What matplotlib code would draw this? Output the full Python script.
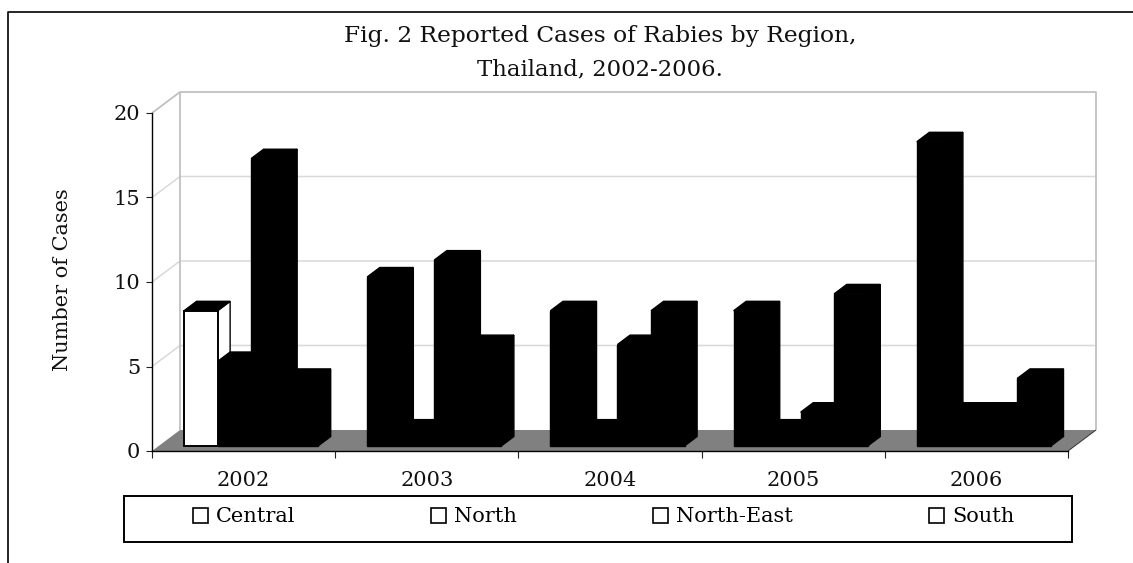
import matplotlib
matplotlib.use("Agg")
import matplotlib.pyplot as plt
from matplotlib.patches import Polygon, Patch, Rectangle
from matplotlib.lines import Line2D

years = ["2002", "2003", "2004", "2005", "2006"]
regions = ["Central", "North", "North-East", "South"]
central = [8, 10, 8, 8, 18]
north = [5, 1, 1, 1, 2]
north_east = [17, 11, 6, 2, 2]
south = [4, 6, 8, 9, 4]
yticks = [0, 5, 10, 15, 20]
title_lines = ["Fig. 2 Reported Cases of Rabies by Region,", "Thailand, 2002-2006."]

W, H = 1133, 563
FONT = "DejaVu Serif"
FS = 15
fig = plt.figure(figsize=(W / 100, H / 100), dpi=100, facecolor="white")


def fx(p):
    return p / W


def fy(p):
    return 1 - p / H


# front plane of the 3-D box
L, R, T, B = 152, 1068, 113, 451
ax = fig.add_axes([fx(L), fy(B), fx(R - L), (B - T) / H])
ax.set_xlim(0, len(years))
ax.set_ylim(0, 20)
ax.patch.set_visible(False)
for s in ("top", "right"):
    ax.spines[s].set_visible(False)
for s in ("left", "bottom"):
    ax.spines[s].set_linewidth(1.0)
    ax.spines[s].set_zorder(20)

ax.set_yticks(yticks)
ax.set_xticks(range(len(years) + 1))
ax.set_xticklabels([])
ax.tick_params(axis="y", length=4.3, width=0.8, color="#222222", labelsize=FS, pad=4.3, labelcolor="#111111")
ax.tick_params(axis="x", length=5, width=0.8, color="#222222")
for t in ax.get_yticklabels():
    t.set_fontfamily(FONT)

# depth of the box, in data units
DX = 28 / ((R - L) / len(years))
DY = 21 / ((B - T) / 20)


def proj(x, y, d):
    return (x + d * DX, y + d * DY)


def wall_line(pts, color, lw, z=1):
    ax.add_line(Line2D([p[0] for p in pts], [p[1] for p in pts], color=color, lw=lw,
                       clip_on=False, zorder=z, solid_capstyle="butt"))


n = len(years)
# floor
ax.add_patch(Polygon([proj(0, 0, 0), proj(0, 0, 1), proj(n, 0, 1), proj(n, 0, 0)],
                     closed=True, fc="#808080", ec="none", clip_on=False, zorder=2))
wall_line([proj(n, 0, 0), proj(n, 0, 1)], "#333333", 0.7, 3)
# gridlines on walls
for v in yticks[1:-1]:
    wall_line([proj(0, v, 0), proj(0, v, 1), proj(n, v, 1)], "#d9d9d9", 1.1)
wall_line([proj(0, 20, 0), proj(0, 20, 1), proj(n, 20, 1), proj(n, 0, 1)], "#c0c0c0", 1.3)
wall_line([proj(0, 20, 1), proj(0, 0, 1)], "#c0c0c0", 1.3)

# bars
series = [central, north, north_east, south]
GAP, BW = 0.138, 0.183
D0, D1 = 0.24, 0.69
z = 5
for g in range(n):
    for i, vals in enumerate(series):
        v = vals[g]
        x0 = g + GAP + i * BW
        x1 = x0 + BW
        front = "white" if (i == 0 and g == 0) else "black"
        side = front
        # side face
        ax.add_patch(Polygon([proj(x1, 0, D0), proj(x1, 0, D1), proj(x1, v, D1), proj(x1, v, D0)],
                             closed=True, fc=side, ec="black", lw=1.0, clip_on=False, zorder=z))
        # top face
        ax.add_patch(Polygon([proj(x0, v, D0), proj(x0, v, D1), proj(x1, v, D1), proj(x1, v, D0)],
                             closed=True, fc="black", ec="black", lw=1.0, clip_on=False, zorder=z))
        # front face
        bx, by = proj(x0, 0, D0)
        ax.bar(bx, v, width=BW, bottom=by, align="edge", color=front, edgecolor="black",
               linewidth=1.4 if front == "white" else 1.0, zorder=z + 0.5, clip_on=False)
        z += 1

# category labels, between the ticks
for g, y in enumerate(years):
    ax.annotate(y, (g + 0.5, 0), xytext=(0, -29), textcoords="offset pixels", ha="center", va="center",
                fontsize=FS, family=FONT, color="#111111", annotation_clip=False)

fig.text(fx(62), fy(280), "Number of Cases", rotation=90, ha="center", va="center",
         fontsize=FS, family=FONT, color="#111111")
fig.text(fx(600.5), fy(36), title_lines[0], ha="center", va="center", fontsize=16.8, family=FONT, color="#111111")
fig.text(fx(600), fy(69), title_lines[1], ha="center", va="center", fontsize=16.4, family=FONT, color="#111111")

# legend box and legend
fig.add_artist(Rectangle((fx(123.5), fy(541.5)), fx(948), (541.5 - 495.5) / H, transform=fig.transFigure,
                         fc="white", ec="black", lw=1.4, zorder=30))
handles = [Patch(fc="white", ec="black", lw=1.2, label=r) for r in regions]
leg = fig.legend(handles=handles, ncol=4, loc="center left", bbox_to_anchor=(fx(193), fy(517)),
                 bbox_transform=fig.transFigure, frameon=False, borderpad=0, borderaxespad=0,
                 columnspacing=6.53, handlelength=0.72, handleheight=0.72, handletextpad=0.38,
                 prop={"family": FONT, "size": FS})
leg.set_zorder(31)

# outer frame: top and left sides only
fig.add_artist(Line2D([fx(8), fx(8), 1.0], [0, fy(12), fy(12)], color="black", lw=1.2,
                      transform=fig.transFigure))

fig.savefig("out.png", dpi=100)
